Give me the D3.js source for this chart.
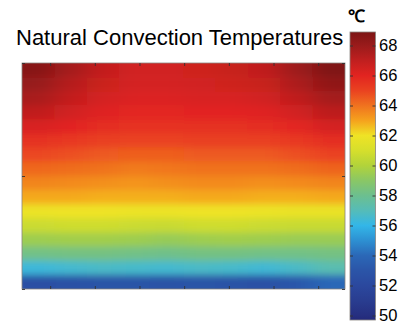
<!DOCTYPE html>
<html><head><meta charset="utf-8">
<script src="https://cdn.jsdelivr.net/npm/d3@7"></script>
<style>body{margin:0;background:#fff}svg{display:block}</style></head>
<body>
<script>
const titleText = "Natural Convection Temperatures";
const unitLabel = "℃";
// temperature grid (°C), rows top -> bottom, columns left -> right
const row00 = [68.6, 67.7, 66.9, 66.5, 66.5, 66.6, 66.8, 67.0, 67.9, 68.8];
const row01 = [68.1, 67.3, 66.7, 66.4, 66.4, 66.5, 66.6, 66.8, 67.5, 68.3];
const row02 = [67.6, 66.9, 66.4, 66.2, 66.2, 66.3, 66.3, 66.5, 67.0, 67.7];
const row03 = [67.0, 66.5, 66.1, 65.9, 65.9, 66.0, 66.0, 66.1, 66.5, 67.1];
const row04 = [66.3, 66.0, 65.7, 65.5, 65.5, 65.6, 65.6, 65.7, 65.9, 66.4];
const row05 = [65.6, 65.3, 65.1, 65.0, 65.0, 65.1, 65.1, 65.1, 65.3, 65.7];
const row06 = [64.9, 64.7, 64.5, 64.4, 64.4, 64.5, 64.5, 64.5, 64.7, 65.0];
const row07 = [64.2, 64.1, 64.0, 63.8, 63.9, 64.0, 64.0, 64.0, 64.1, 64.3];
const row08 = [63.6, 63.5, 63.4, 63.3, 63.4, 63.5, 63.5, 63.4, 63.5, 63.6];
const row09 = [62.9, 62.9, 62.8, 62.8, 62.8, 62.9, 62.9, 62.8, 62.8, 62.9];
const row10 = [61.9, 62.0, 62.0, 61.9, 61.9, 62.0, 62.0, 61.9, 61.8, 61.8];
const row11 = [60.7, 60.8, 60.8, 60.7, 60.6, 60.8, 60.8, 60.7, 60.6, 60.6];
const row12 = [59.5, 59.6, 59.6, 59.5, 59.3, 59.5, 59.6, 59.5, 59.4, 59.4];
const row13 = [58.2, 58.3, 58.3, 58.2, 58.1, 58.3, 58.3, 58.2, 58.2, 58.3];
const row14 = [56.3, 56.5, 56.7, 56.6, 56.5, 56.7, 56.6, 56.4, 56.7, 57.2];
const row15 = [52.6, 52.7, 52.9, 52.9, 52.8, 52.9, 52.8, 52.7, 53.1, 54.0];
const grid = [row00,row01,row02,row03,row04,row05,row06,row07,row08,row09,row10,row11,row12,row13,row14,row15];

const xTicks = [1,2,3,4,5,6,7];
const yTicks = [0,1,2];
const cbTicks = [50,52,54,56,58,60,62,64,66,68];
const cbRange = [49.7, 68.9];
const cmapValues = [49.7, 50, 51, 52, 53, 54, 55, 56, 57, 58, 59, 60, 61, 62, 63, 64, 65, 66, 67, 68, 68.9];
const cmapColors = ["#24297a","#262f80","#293d90","#2b489e","#2b55a8","#2b68b7","#2d90d2","#33b6e8","#55bcb8","#6cbf8f","#8ac765","#b2d33a","#d6df2c","#efe325","#f5a21d","#f0721f","#ea4220","#e22420","#c01f1f","#9a1b1b","#7d1414"];

const W = 406, H = 322;
const P = {l:22, t:63, r:345, b:289};
const CB = {l:350, r:375.5, t:32, b:320};
const font = "'Liberation Sans', Arial, Helvetica, sans-serif";

const svg = d3.select("body").append("svg").attr("width", W).attr("height", H);
const defs = svg.append("defs");
const color = d3.scaleLinear().domain(cmapValues).range(cmapColors).clamp(true);

const nRows = grid.length, nCols = grid[0].length;
const colS = d3.scaleBand().domain(d3.range(nCols)).range([P.l, P.r]);
const rowS = d3.scaleBand().domain(d3.range(nRows)).range([P.t, P.b]);
const x = d3.scaleLinear().domain([0.37, 7.6]).range([P.l, P.r]);
const y = d3.scaleLinear().domain([0, 2]).range([P.b, P.t]);

defs.append("clipPath").attr("id","plotclip").append("rect")
  .attr("x",P.l).attr("y",P.t).attr("width",P.r-P.l).attr("height",P.b-P.t);
defs.append("filter").attr("id","smooth").attr("filterUnits","userSpaceOnUse")
  .attr("x",0).attr("y",30).attr("width",W).attr("height",H-30)
  .append("feGaussianBlur").attr("stdDeviation","11 3.5");

const cells = [];
grid.forEach((r,i) => r.forEach((v,j) => cells.push({i,j,v})));
const pad = 25;
const clipG = svg.append("g").attr("clip-path","url(#plotclip)");
clipG.append("g").attr("filter","url(#smooth)")
  .selectAll("rect").data(cells).join("rect")
  .attr("x", d => colS(d.j) - (d.j===0 ? pad : 0))
  .attr("y", d => rowS(d.i) - (d.i===0 ? pad : 0))
  .attr("width", d => colS.bandwidth() + 0.6 + (d.j===0 ? pad : 0) + (d.j===nCols-1 ? pad : 0))
  .attr("height", d => rowS.bandwidth() + 0.6 + (d.i===0 ? pad : 0) + (d.i===nRows-1 ? pad : 0))
  .attr("fill", d => color(d.v));

// frame
svg.append("rect").attr("x",P.l).attr("y",P.t).attr("width",P.r-P.l).attr("height",P.b-P.t)
  .attr("fill","none").attr("stroke","#8a8580").attr("stroke-width",0.8);

function styleAxis(g){
  g.select(".domain").remove();
  g.selectAll(".tick line").attr("stroke","#333").attr("stroke-width",0.9);
  g.selectAll(".tick text").remove();
}
svg.append("g").attr("transform",`translate(0,${P.t})`)
  .call(d3.axisTop(x).tickValues(xTicks).tickSize(-3).tickFormat("")).call(styleAxis);
svg.append("g").attr("transform",`translate(0,${P.b})`)
  .call(d3.axisBottom(x).tickValues(xTicks).tickSize(-3).tickFormat("")).call(styleAxis);
svg.append("g").attr("transform",`translate(${P.l},0)`)
  .call(d3.axisLeft(y).tickValues(yTicks).tickSize(-3).tickFormat("")).call(styleAxis);
svg.append("g").attr("transform",`translate(${P.r},0)`)
  .call(d3.axisRight(y).tickValues(yTicks).tickSize(-3).tickFormat("")).call(styleAxis);

// title
svg.append("text").attr("x",16).attr("y",45).attr("font-family",font)
  .attr("font-size",22).attr("fill","#000").text(titleText);

// colorbar
const cb = d3.scaleLinear().domain(cbRange).range([CB.b, CB.t]);
const grad = defs.append("linearGradient").attr("id","cbgrad")
  .attr("x1",0).attr("y1",1).attr("x2",0).attr("y2",0);
grad.selectAll("stop").data(cmapValues).join("stop")
  .attr("offset", v => (v - cbRange[0])/(cbRange[1]-cbRange[0]))
  .attr("stop-color", (v,k) => cmapColors[k]);
svg.append("rect").attr("x",CB.l).attr("y",CB.t).attr("width",CB.r-CB.l).attr("height",CB.b-CB.t)
  .attr("fill","url(#cbgrad)").attr("stroke","#8a8580").attr("stroke-width",0.8);
svg.append("g").attr("transform",`translate(${CB.l},0)`)
  .call(d3.axisLeft(cb).tickValues(cbTicks).tickSize(-3).tickFormat("")).call(styleAxis);
const cbAx = svg.append("g").attr("transform",`translate(${CB.r},0)`)
  .call(d3.axisRight(cb).tickValues(cbTicks).tickSize(-3).tickPadding(6));
cbAx.select(".domain").remove();
cbAx.selectAll(".tick line").attr("stroke","#333").attr("stroke-width",0.9);
cbAx.selectAll(".tick text").attr("font-family",font).attr("font-size",16.5).attr("fill","#000")
  .attr("x",3.5);

svg.append("text").attr("x",356).attr("y",22).attr("text-anchor","middle")
  .attr("font-family",font).attr("font-size",17).attr("font-weight","bold").attr("fill","#000").text(unitLabel);
</script>
</body></html>
